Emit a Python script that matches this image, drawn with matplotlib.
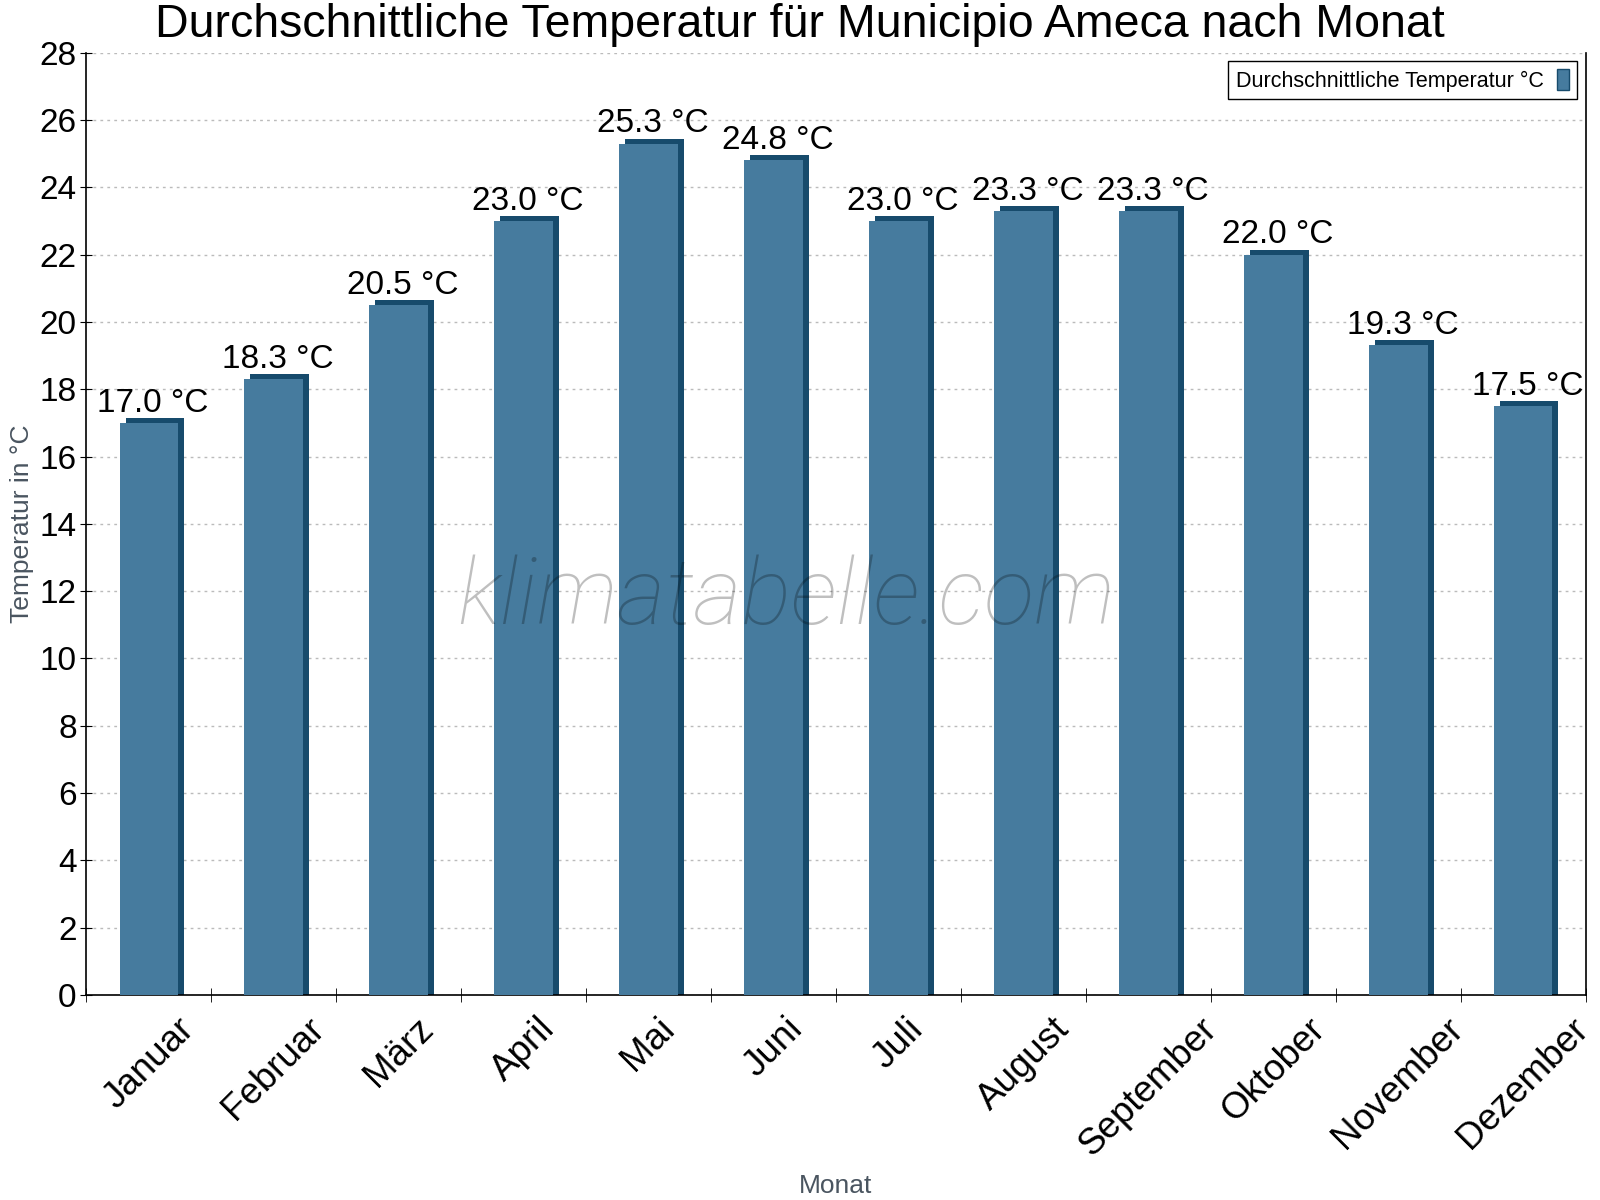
import matplotlib
matplotlib.use("Agg")
import matplotlib.pyplot as plt
import matplotlib.transforms as mtransforms
import matplotlib.patches as mpatches
import numpy as np

plt.rcParams["font.family"] = ["Liberation Sans", "DejaVu Sans"]

months = ["Januar", "Februar", "März", "April", "Mai", "Juni", "Juli",
          "August", "September", "Oktober", "November", "Dezember"]
temps = [17.0, 18.3, 20.5, 23.0, 25.3, 24.8, 23.0, 23.3, 23.3, 22.0, 19.3, 17.5]
yticks = list(range(0, 30, 2))

FACE = "#467b9e"
DARK = "#174b6c"

fig = plt.figure(figsize=(16, 12), dpi=100)
ax = fig.add_axes([0.054, 0.171, 0.937, 0.785])

x = np.arange(len(months))
w = 0.47

# 3D-Effekt: dunkle, versetzte Kopien hinter dem Balken (Seite + Deckel)
side = mtransforms.ScaledTranslation(6 / 100, 0, fig.dpi_scale_trans)
top = mtransforms.ScaledTranslation(6 / 100, 5 / 100, fig.dpi_scale_trans)
ax.bar(x, temps, width=w, color=DARK, transform=ax.transData + side, zorder=2)
ax.bar(x, temps, width=w, color=DARK, transform=ax.transData + top, zorder=2)
ax.bar(x, temps, width=w, color=FACE, zorder=3)

for xi, v in zip(x, temps):
    ax.annotate(f"{v:.1f} °C", xy=(xi, v), xytext=(3, 3), textcoords="offset points",
                ha="center", va="bottom", fontsize=24, color="black", zorder=5)

ax.set_xlim(-0.5, len(months) - 0.5)
ax.set_ylim(0, 28)
ax.set_yticks(yticks)
ax.set_yticklabels([str(t) for t in yticks], fontsize=24)
ax.set_xticks(x)
ax.set_xticklabels(months, rotation=45, fontsize=26.5)
ax.tick_params(axis="x", length=0, pad=12)
ax.set_xticks(np.arange(-0.5, len(months), 1), minor=True)
ax.tick_params(axis="x", which="minor", length=10, direction="inout")
ax.tick_params(axis="y", length=8, direction="inout", pad=3)

ax.grid(axis="y", color="#bbbbbb", ls=(0, (2, 3)), lw=1)
ax.set_axisbelow(True)
ax.spines["top"].set_visible(False)
for s in ["left", "right", "bottom"]:
    ax.spines[s].set_linewidth(1.2)

ax.set_ylabel("Temperatur in °C", fontsize=19, color="#4a5560", labelpad=4)
ax.set_xlabel("Monat", fontsize=19, color="#4a5560", labelpad=8)
fig.text(0.5, 0.979, "Durchschnittliche Temperatur für Municipio Ameca nach Monat",
         fontsize=33.5, ha="center", va="center")

ax.text(0.467, 0.42, "klimatabelle.com", transform=ax.transAxes, fontsize=67,
        family=["Roboto", "DejaVu Sans"], fontweight=200,
        style="italic", color="black", alpha=0.25, ha="center", va="center", zorder=4)

handle = mpatches.Patch(facecolor=FACE, edgecolor=DARK, label="Durchschnittliche Temperatur °C")
leg = ax.legend(handles=[handle], loc="upper right", fontsize=15.5, markerfirst=False,
                fancybox=False, edgecolor="black", framealpha=1,
                handlelength=0.6, handleheight=1.1, borderaxespad=0.4,
                borderpad=0.35, handletextpad=0.6)
leg.get_frame().set_linewidth(1)

fig.savefig("out.png", dpi=100)
